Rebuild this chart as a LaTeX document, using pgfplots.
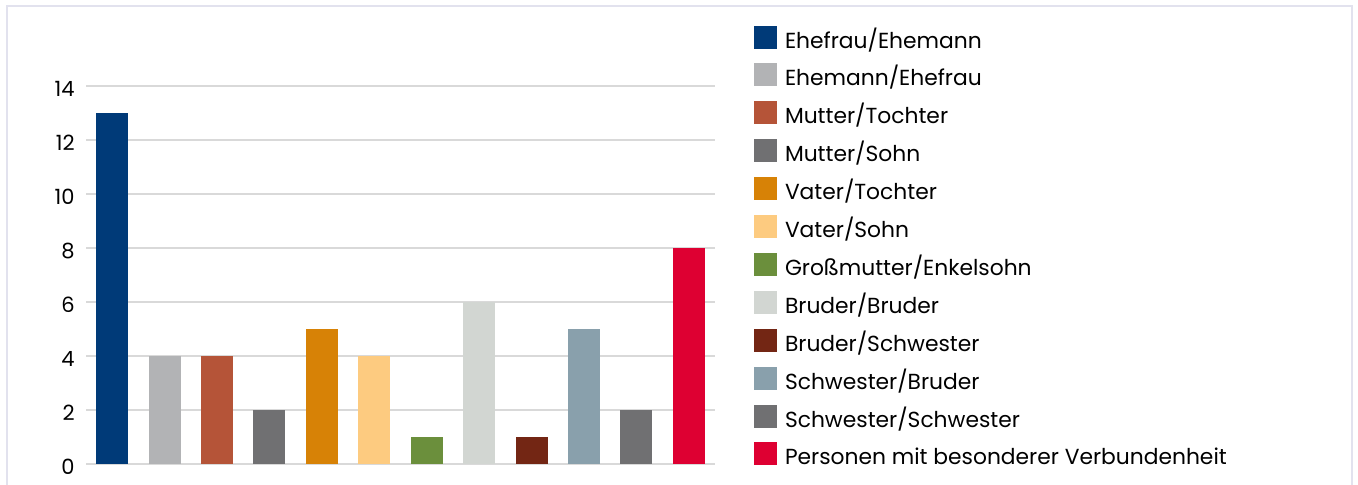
\documentclass[border=0pt]{standalone}
\usepackage{pgfplots}
\pgfplotsset{compat=1.18}
\usepackage{fontspec}
\setmainfont{Poppins}
\definecolor{frame}{RGB}{226,226,238}
\definecolor{gridc}{RGB}{217,217,217}
\definecolor{c1}{RGB}{0,58,120}
\definecolor{c2}{RGB}{178,179,181}
\definecolor{c3}{RGB}{181,84,56}
\definecolor{c4}{RGB}{112,112,114}
\definecolor{c5}{RGB}{215,130,6}
\definecolor{c6}{RGB}{253,203,128}
\definecolor{c7}{RGB}{107,143,60}
\definecolor{c8}{RGB}{210,214,210}
\definecolor{c9}{RGB}{115,38,20}
\definecolor{c10}{RGB}{137,160,172}
\definecolor{c11}{RGB}{112,112,114}
\definecolor{c12}{RGB}{222,0,50}
\begin{document}
\begin{tikzpicture}
\useasboundingbox (0,0) rectangle (679pt,242.5pt);
\clip (0,0) rectangle (679pt,242.5pt);
\fill[white] (0,0) rectangle (679pt,242.5pt);
\draw[frame, line width=1.2pt] (3.5pt,-10pt) -- (3.5pt,239.5pt) -- (676pt,239.5pt) -- (676pt,-10pt);
\begin{axis}[
  at={(43pt,10.5pt)}, anchor=south west,
  scale only axis, width=314.5pt, height=189pt,
  xmin=-0.5, xmax=11.5, ymin=0, ymax=14,
  ytick={0,2,...,14}, xtick=\empty,
  ymajorgrids, grid style={gridc, line width=0.85pt},
  axis line style={draw=none}, major tick length=0pt,
  /pgf/number format/assume math mode=true,
  yticklabel style={font=\fontsize{10.5pt}{12pt}\selectfont, anchor=east, inner sep=0pt, xshift=-5.5pt, yshift=-1.5pt},
  ybar, bar width=16pt, bar shift=0pt,
  clip=false,
  legend image code/.code={\fill[#1] (0pt,-0.25pt) rectangle (11.5pt,11.25pt);},
  legend cell align=left,
  legend style={at={(rel axis cs:1.062,1.160)}, anchor=north west, draw=none, fill=none, inner sep=0pt, outer sep=0pt,
    row sep=7.45pt, column sep=4pt,
    nodes={inner sep=0pt, text height=11.25pt, text depth=0.25pt, anchor=base west, font=\fontsize{10.9pt}{12pt}\selectfont}},
]
\addplot[draw=none, fill=c1] coordinates {(0,13)};
\addlegendentry{Ehefrau/Ehemann}
\addplot[draw=none, fill=c2] coordinates {(1,4)};
\addlegendentry{Ehemann/Ehefrau}
\addplot[draw=none, fill=c3] coordinates {(2,4)};
\addlegendentry{Mutter/Tochter}
\addplot[draw=none, fill=c4] coordinates {(3,2)};
\addlegendentry{Mutter/Sohn}
\addplot[draw=none, fill=c5] coordinates {(4,5)};
\addlegendentry{Vater/Tochter}
\addplot[draw=none, fill=c6] coordinates {(5,4)};
\addlegendentry{Vater/Sohn}
\addplot[draw=none, fill=c7] coordinates {(6,1)};
\addlegendentry{Großmutter/Enkelsohn}
\addplot[draw=none, fill=c8] coordinates {(7,6)};
\addlegendentry{Bruder/Bruder}
\addplot[draw=none, fill=c9] coordinates {(8,1)};
\addlegendentry{Bruder/Schwester}
\addplot[draw=none, fill=c10] coordinates {(9,5)};
\addlegendentry{Schwester/Bruder}
\addplot[draw=none, fill=c11] coordinates {(10,2)};
\addlegendentry{Schwester/Schwester}
\addplot[draw=none, fill=c12] coordinates {(11,8)};
\addlegendentry{Personen mit besonderer Verbundenheit}
\end{axis}
\end{tikzpicture}
\end{document}
